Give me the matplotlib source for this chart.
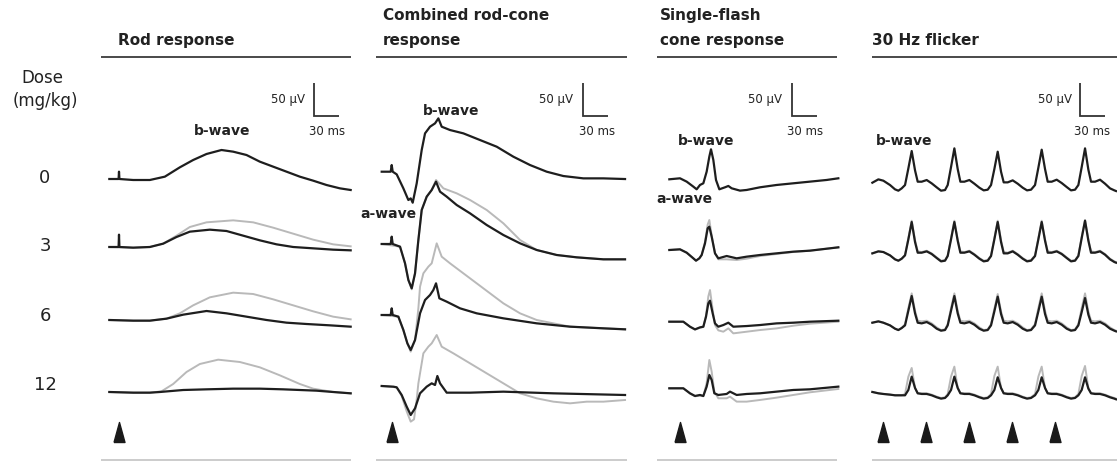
import matplotlib
matplotlib.use('Agg')
import matplotlib.pyplot as plt

# ---------------- data (time in ms from flash, amplitude in µV) ----------------
DOSES = ["0", "3", "6", "12"]
PANEL_TITLES = ["Rod response", "Combined rod-cone\nresponse",
                "Single-flash\ncone response", "30 Hz flicker"]

# Rod response
ROD_T_0 = [-11.6, -0.5, 0.0, 0.5, 17, 37, 55, 73, 89, 105, 123, 137, 153, 169, 185, 201, 217, 233, 249, 265, 278]
ROD_V_0 = [0, 0, 11, 0, -1.5, -1.5, 3.5, 17.5, 28.5, 37.5, 43.5, 41, 36, 26, 18.5, 11, 3.5, -2.5, -9, -14, -16.5]
ROD_T_3 = [-11.6, -0.5, 0.0, 0.5, 17, 37, 53, 69, 85, 109, 129, 149, 169, 189, 209, 233, 257, 278]
ROD_V_3 = [0, 0, 18.5, 0, -1, 0, 5, 15, 23, 26, 24, 17, 10, 4, 0, -2, -4, -5]
ROD_T_3_BASE = [-11.6, 17, 37, 53, 69, 85, 105, 137, 161, 185, 209, 233, 257, 278]
ROD_V_3_BASE = [0, -1, 0, 5, 17, 30, 37, 40, 37, 29, 20, 11, 4, 1]
ROD_T_6 = [-11.6, 17, 37, 57, 77, 105, 129, 153, 177, 201, 225, 253, 278]
ROD_V_6 = [0, -1, -1, 2, 8, 13.5, 10, 5, 0, -4, -6, -8, -10]
ROD_T_6_BASE = [-11.6, 17, 37, 57, 73, 89, 109, 137, 161, 185, 209, 233, 257, 278]
ROD_V_6_BASE = [0, -1, -1, 2, 10, 22, 34, 41, 39, 31, 22, 13, 5, 1]
ROD_T_12 = [-11.6, 17, 37, 49, 77, 105, 137, 169, 197, 237, 257, 278]
ROD_V_12 = [0, -1, -1, 0, 3, 4, 5, 5, 4, 2, 0, -2]
ROD_T_12_BASE = [-11.6, 17, 37, 51, 65, 81, 97, 119, 145, 169, 193, 217, 233, 257, 278]
ROD_V_12_BASE = [0, -1, -1, 1, 12, 30, 42, 48.5, 45, 37, 25, 12, 5, 0, -2]

# Combined rod-cone response
MIX_T_0 = [-12, -1.2, 0, 1.2, 6, 14, 20, 22.8, 25.2, 30, 36, 40, 46, 52, 56, 60, 70, 86, 106, 126, 146, 166, 186, 206, 230, 254, 280]
MIX_V_0 = [0, 0, 10, 0, -4, -25, -42.5, -40, -46.5, -17.5, 32.5, 57.5, 67.5, 72.5, 80, 67.5, 62.5, 57.5, 47.5, 37.5, 22.5, 10, 0, -6.5, -10, -10, -11]
MIX_T_3 = [-12, -1.2, 0, 1.2, 10, 16, 20, 24, 28, 32, 36, 42, 48, 53.2, 58, 66, 78, 94, 114, 134, 154, 174, 198, 222, 254, 280]
MIX_V_3 = [0, 0, 11, 0, -4, -29, -54, -66.5, -44, 6, 51, 71, 81, 93.5, 78.5, 71, 58.5, 46, 28.5, 13.5, 1, -9, -16.5, -20, -23, -23]
MIX_T_3_BASE = [-12, 10, 16, 20, 24, 28, 32, 36, 42, 48, 53.2, 62, 78, 94, 114, 134, 154, 174, 198, 222, 254, 280]
MIX_V_3_BASE = [0, -4, -29, -54, -68, -44, 6, 51, 71, 81, 96, 83.5, 76, 66, 51, 31, 6, -9, -16.5, -20, -23, -23]
MIX_T_6 = [-12, -1.2, 0, 1.2, 8, 14, 18.8, 22.8, 28, 34, 40, 46, 50, 53.2, 57.2, 66, 82, 102, 134, 174, 214, 254, 280]
MIX_V_6 = [0, 0, 10, 0, -2.5, -22.5, -42.5, -52.5, -37.5, 2.5, 22.5, 30, 37.5, 47.5, 25, 20, 10, 2.5, -5, -12.5, -17.5, -20, -21.5]
MIX_T_6_BASE = [-12, 8, 14, 18.8, 22.8, 28, 32, 34, 38, 44, 48, 54, 60, 70, 86, 102, 118, 134, 154, 174, 194, 214, 254, 280]
MIX_V_6_BASE = [0, -2.5, -22.5, -42.5, -55, -37.5, 10, 42.5, 62.5, 72.5, 77.5, 107.5, 87.5, 77.5, 62.5, 47.5, 32.5, 17.5, 2.5, -7.5, -12.5, -17.5, -20, -21.5]
MIX_T_12 = [-12, 2, 6, 12, 18, 22.8, 28, 34, 42, 48, 52, 54.8, 58, 66, 94, 134, 194, 280]
MIX_V_12 = [0, -1, -2, -13.5, -31, -43.5, -33.5, -11, -1, 4, 1.5, 15, 4, -10, -10, -8.5, -11, -13.5]
MIX_T_12_BASE = [-12, 6, 12, 18, 22.8, 26.8, 30, 32, 38, 44, 48, 54, 60, 74, 94, 114, 134, 154, 174, 194, 214, 234, 254, 280]
MIX_V_12_BASE = [0, -2, -15, -38, -53.5, -50, -20, 4, 49, 59, 64, 76.5, 59, 49, 34, 19, 4, -11, -18.5, -23.5, -26, -23.5, -23.5, -21]

# Single-flash cone response
CONE_T_0 = [-12.8, 0, 8, 16, 20, 24, 28, 32, 35.2, 37.2, 40, 43.2, 47.2, 54, 58, 62, 72, 80, 96, 116, 136, 156, 176, 190]
CONE_V_0 = [0, 1.5, -3.5, -11, -15, -8.5, -6, 11.5, 34, 45, 29, -1, -15, -12, -10, -13.5, -17, -16, -12, -8.5, -6, -3.5, -1, 1.5]
CONE_T_3 = [-12.8, 0, 8, 16, 19.2, 23.2, 26, 30, 33.2, 35.2, 38, 42, 46, 56, 68, 80, 96, 116, 136, 156, 190]
CONE_V_3 = [0, 1, -4, -12.5, -16, -12.5, -7.5, 10, 32.5, 35, 20, -5, -12.5, -9, -12.5, -10, -7.5, -5, -2.5, -1, 4]
CONE_V_3_BASE = [0, 1, -4, -12.5, -16, -12.5, -7.5, 12, 38, 45, 22, -5, -14, -14, -15, -13, -9, -6, -3, -1, 4]
CONE_T_6 = [-12.8, 4, 12, 18, 24, 28, 31.2, 34, 36, 39.2, 42, 46, 52, 58, 64, 80, 96, 116, 136, 156, 190]
CONE_V_6 = [0, 0, -7.5, -11.5, -8.5, -7.5, 7.5, 27.5, 31.5, 12.5, -2.5, -7.5, -5, -1.5, -7.5, -6.5, -5, -2.5, -1.5, 0, 1.5]
CONE_V_6_BASE = [0, 0, -7.5, -12, -9, -8, 9, 38, 47.5, 18, -5, -13, -15, -10, -17.5, -15, -12.5, -10, -6, -3, 0]
CONE_T_12 = [-12.8, 4, 12, 18, 24, 28, 32, 35.2, 38, 41.2, 46, 56, 60, 68, 80, 96, 116, 136, 156, 190]
CONE_V_12 = [0, 0, -7.5, -11.5, -10, -11.5, 2.5, 20, 12.5, -7.5, -10, -8.5, -5, -10, -8.5, -7.5, -5, -2.5, -1.5, 2.5]
CONE_V_12_BASE = [0, 0, -8, -12, -11, -12, 8, 42.5, 25, -5, -15, -15, -12.5, -20, -20, -17.5, -14, -10, -6, -1]

# 30 Hz flicker
FLK_T = [-12.4, -5.2, 0.8, 8.8, 14.8, 18.8, 22.8,
         26.8, 30.8, 34.8, 38.8, 42.0, 46.8, 52.8, 58.8, 64.8, 70.0, 74.8,
         78.0, 82.0, 86.0, 90.0, 93.2, 98.0, 104.0, 110.0, 116.0, 121.2, 126.0,
         130.0, 134.0, 138.0, 142.0, 145.2, 150.0, 156.0, 162.0, 168.0, 173.2, 178.0,
         182.8, 186.8, 190.8, 194.8, 198.0, 202.8, 208.8, 214.8, 220.8, 226.0, 230.8,
         234.8, 238.8, 242.8, 246.8, 250.0, 254.8, 260.8, 266.8, 272.8, 278.0, 280.0]
FLK_V_0 = [-1.5, 3.5, 1.5, -5, -11.5, -13.5, -10,
           -5, 20, 46, 17, 0, 0, 2.5, -2.5, -8.5, -13.5, -12.5,
           -5, 22, 50, 19, 0, 0, 2.5, -3, -9, -13, -12,
           -5, 19, 45, 15, -1, -1, 2, -3, -9, -13, -12,
           -5, 21, 48, 19, 0, 0, 3, -2, -8, -13, -12,
           -5, 22, 50, 18, 0, 0, 3, -3, -10, -13, -14]
FLK_V_3 = [-1, 2, 1, -4, -10, -12, -9,
           -4, 20, 46, 16, 0, 0, 2, -2, -8, -13, -12,
           -5, 20, 46, 18, 0, 0, 2, -3, -9, -13, -12,
           -5, 20, 46, 16, -1, -1, 2, -3, -9, -13, -12,
           -5, 20, 46, 18, 0, 0, 2, -2, -8, -13, -12,
           -5, 22, 48, 18, 0, 0, 2, -3, -10, -14, -15]
FLK_V_3_BASE = [-1, 2, 1, -4, -10, -12, -9,
                -3, 22, 48, 19, 2, 1, 3, -1, -7, -12, -11,
                -4, 22, 48, 20, 2, 1, 3, -2, -8, -12, -11,
                -4, 22, 48, 19, 1, 0, 3, -2, -8, -12, -11,
                -4, 22, 48, 20, 2, 1, 3, -1, -7, -12, -11,
                -4, 24, 49, 20, 2, 1, 3, -2, -9, -13, -14]
FLK_V_6 = [0, 2, 0, -4, -9, -11, -8,
           -4, 18, 40, 14, 0, -1, 1, -3, -9, -12, -11,
           -4, 18, 40, 14, 0, -1, 1, -3, -9, -12, -11,
           -4, 17, 39, 13, 0, -1, 1, -3, -9, -12, -11,
           -4, 17, 39, 13, 0, -1, 1, -3, -9, -12, -11,
           -4, 16, 37, 12, 0, -1, 1, -3, -9, -12, -13]
FLK_V_6_BASE = [0, 2, 0, -4, -9, -11, -8,
                -2, 22, 44, 18, 3, 2, 3, -1, -7, -11, -10,
                -2, 22, 44, 18, 3, 2, 3, -1, -7, -11, -10,
                -2, 21, 43, 17, 3, 2, 3, -1, -7, -11, -10,
                -2, 22, 44, 18, 3, 2, 3, -1, -7, -11, -10,
                -2, 22, 44, 17, 3, 2, 3, -1, -7, -11, -12]
FLK_V_12 = [2, 0, -1, -2, -3, -3, -3,
            -3, 5, 25, 8, 0, -1, -1, -3, -6, -8, -7,
            -3, 5, 25, 8, 0, -1, -1, -3, -6, -8, -7,
            -3, 5, 24, 8, 0, -1, -1, -3, -6, -8, -7,
            -3, 5, 24, 8, 0, -1, -1, -3, -6, -8, -7,
            -3, 5, 24, 7, 0, -1, -1, -3, -6, -8, -9]
FLK_V_12_BASE = [2, 0, -1, -2, -3, -3, -3,
                 -1, 25, 38, 8, 0, 0, 0, -2, -5, -7, -6,
                 -1, 25, 40, 8, 0, 0, 0, -2, -5, -7, -6,
                 -1, 26, 40, 8, 0, 0, 0, -2, -5, -7, -6,
                 -1, 25, 40, 8, 0, 0, 0, -2, -5, -7, -6,
                 -1, 26, 41, 8, 0, 0, 0, -2, -5, -7, -8]

FLASH_SINGLE = [0.0]
FLASH_FLICKER = [0.0, 51.6, 103.2, 154.8, 206.4]
SCALE_MS = 30
SCALE_UV = 50

# ---------------- figure / layout ----------------
W, H, DPI = 1117, 461, 100
MS_PX = 1.2      # ms per pixel
UV_PX = 1.5      # µV per pixel
Y_TOP, Y_BOT = 60, 452
BLACK = '#1e1e1e'
GRAY = '#b9b9b9'
TXT = '#222222'

fig = plt.figure(figsize=(W / DPI, H / DPI), dpi=DPI)
fig.patch.set_facecolor('white')
plt.rcParams['font.family'] = ['DejaVu Sans']

ov = fig.add_axes([0, 0, 1, 1])
ov.set_xlim(0, W)
ov.set_ylim(H, 0)
ov.axis('off')

panels = [
    dict(xl=104, xr=356, x0=119.0, rows=[179, 247, 320, 392], sb=314, flashes=FLASH_SINGLE,
         traces=[(ROD_T_0, ROD_V_0, None, None),
                 (ROD_T_3, ROD_V_3, ROD_T_3_BASE, ROD_V_3_BASE),
                 (ROD_T_6, ROD_V_6, ROD_T_6_BASE, ROD_V_6_BASE),
                 (ROD_T_12, ROD_V_12, ROD_T_12_BASE, ROD_V_12_BASE)]),
    dict(xl=376, xr=630, x0=391.7, rows=[171.7, 244, 315, 386], sb=583, flashes=FLASH_SINGLE,
         traces=[(MIX_T_0, MIX_V_0, None, None),
                 (MIX_T_3, MIX_V_3, MIX_T_3_BASE, MIX_V_3_BASE),
                 (MIX_T_6, MIX_V_6, MIX_T_6_BASE, MIX_V_6_BASE),
                 (MIX_T_12, MIX_V_12, MIX_T_12_BASE, MIX_V_12_BASE)]),
    dict(xl=662, xr=842, x0=680.0, rows=[179.3, 250, 321.7, 388.3], sb=792, flashes=FLASH_SINGLE,
         traces=[(CONE_T_0, CONE_V_0, None, None),
                 (CONE_T_3, CONE_V_3, CONE_T_3, CONE_V_3_BASE),
                 (CONE_T_6, CONE_V_6, CONE_T_6, CONE_V_6_BASE),
                 (CONE_T_12, CONE_V_12, CONE_T_12, CONE_V_12_BASE)]),
    dict(xl=866, xr=1117, x0=882.7, rows=[181.7, 252.7, 322.7, 393.3], sb=1080, flashes=FLASH_FLICKER,
         traces=[(FLK_T, FLK_V_0, None, None),
                 (FLK_T, FLK_V_3, FLK_T, FLK_V_3_BASE),
                 (FLK_T, FLK_V_6, FLK_T, FLK_V_6_BASE),
                 (FLK_T, FLK_V_12, FLK_T, FLK_V_12_BASE)]),
]

TRI = [(-5.5, -10), (5.5, -10), (0, 10), (-5.5, -10)]

for p in panels:
    xl, xr, x0, rows = p['xl'], p['xr'], p['x0'], p['rows']
    yref = rows[0]
    ax = fig.add_axes([xl / W, 1 - Y_BOT / H, (xr - xl) / W, (Y_BOT - Y_TOP) / H])
    ax.set_xlim((xl - x0) * MS_PX, (xr - x0) * MS_PX)
    ax.set_ylim((yref - Y_BOT) * UV_PX, (yref - Y_TOP) * UV_PX)
    ax.axis('off')
    for i, (tb, vb, tg, vg) in enumerate(p['traces']):
        off = (yref - rows[i]) * UV_PX
        if tg is not None:
            ax.plot(tg, [v + off for v in vg], color=GRAY, lw=1.4, zorder=2,
                    solid_joinstyle='round')
        ax.plot(tb, [v + off for v in vb], color=BLACK, lw=1.6, zorder=3,
                solid_joinstyle='round')
    # stimulus arrowheads
    ya = (yref - 432) * UV_PX
    ax.plot(p['flashes'], [ya] * len(p['flashes']), linestyle='none',
            marker=TRI, markersize=14.4, color='#1a1a1a', zorder=4)
    # scale bar
    xs = (p['sb'] - x0) * MS_PX
    ys = (yref - 116) * UV_PX
    ax.plot([xs, xs, xs + SCALE_MS], [ys + SCALE_UV, ys, ys], color='#333333',
            lw=1.3, solid_capstyle='butt', solid_joinstyle='miter', zorder=4, clip_on=False)

# header and footer rules
for (a, b) in [(101, 351), (376, 627), (657, 837), (872, 1117)]:
    ov.plot([a, b], [57.5, 57.5], color='#4a4a4a', lw=1.4, solid_capstyle='butt')
    ov.plot([a, b], [460, 460], color='#c4c4c4', lw=1.2, solid_capstyle='butt')

# titles
title_kw = dict(fontsize=11, fontweight='bold', color=TXT, ha='left', va='baseline')
ov.text(118, 45, PANEL_TITLES[0], **title_kw)
ov.text(383, 20, PANEL_TITLES[1].split('\n')[0], **title_kw)
ov.text(383, 45, PANEL_TITLES[1].split('\n')[1], **title_kw)
ov.text(660, 20, PANEL_TITLES[2].split('\n')[0], **title_kw)
ov.text(660, 45, PANEL_TITLES[2].split('\n')[1], **title_kw)
ov.text(872, 45, PANEL_TITLES[3], **title_kw)

# dose labels
ov.text(42, 78, 'Dose', fontsize=12, color=TXT, ha='center', va='center')
ov.text(45, 101, '(mg/kg)', fontsize=12, color=TXT, ha='center', va='center')
for d, y in zip(DOSES, [178, 246, 316, 385]):
    ov.text(45, y, d, fontsize=13, color=TXT, ha='center', va='center')

# wave labels
wl = dict(fontsize=10, fontweight='bold', color=TXT, ha='center', va='center')
ov.text(222, 131, 'b-wave', **wl)
ov.text(451, 111, 'b-wave', **wl)
ov.text(388, 214, 'a-wave', **wl)
ov.text(706, 141, 'b-wave', **wl)
ov.text(684, 199, 'a-wave', **wl)
ov.text(904, 141, 'b-wave', **wl)

# scale bar labels
for xr_uv, xc_ms in [(305, 327), (573, 597), (782, 805), (1072, 1092)]:
    ov.text(xr_uv, 99, '50 µV', fontsize=8.5, color=TXT, ha='right', va='center')
    ov.text(xc_ms, 131, '30 ms', fontsize=8.5, color=TXT, ha='center', va='center')

fig.savefig('out.png', dpi=DPI, facecolor='white')
